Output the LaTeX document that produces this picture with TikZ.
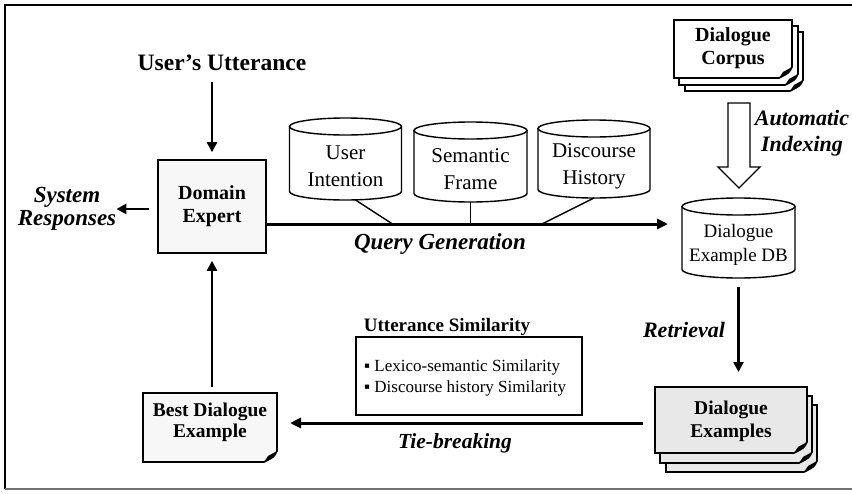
\documentclass[tikz,border=0pt]{standalone}
\usepackage{fontspec}
\setmainfont{Liberation Serif}
\usetikzlibrary{arrows.meta,calc}

\newcommand\cylshape[5]{% name, cx, top, w, h
  \node[cylbox, minimum width=#4, minimum height=#5] (#1) at (#2,{-#3-#5/2}) {};
  \draw[cylline] ([yshift=-8.5]#1.north west) -- ([yshift=8.5]#1.south west)
    arc[start angle=180,end angle=360,x radius=#4/2,y radius=8.5]
    -- ([yshift=-8.5]#1.north east) -- cycle;
  \draw[cylline] ([yshift=-8.5]#1.north) ellipse[x radius=#4/2,y radius=8.5];
}
\newcommand\docpage[5]{% x1,y1,x2,y2 (downwards), fill
  \draw[docline, fill=#5] (#1,-#2) -- (#3,-#2) -- (#3,{-#4+11})
    .. controls ({#3-3},{-#4+5}) .. ({#3-13},-#4) -- (#1,-#4) -- cycle;
  \fill ({#3},{-#4+11}) -- ({#3-9},{-#4+6}) -- ({#3-13},-#4)
    .. controls ({#3-6},{-#4+3}) .. cycle;
}

\begin{document}
\begin{tikzpicture}[x=1pt,y=1pt,
  arr/.style={line width=2.4pt,-{Triangle[length=10pt,width=10pt]}},
  qline/.style={line width=3pt,-{Triangle[length=11pt,width=10pt]}},
  branch/.style={line width=1.4pt},
  cylline/.style={line width=1.4pt, fill=white},
  cylbox/.style={inner sep=0pt, outer sep=0pt},
  cyltxt/.style={font=\fontsize{21}{27}\selectfont, align=center, inner sep=0pt},
  dbtxt/.style={font=\fontsize{19}{24}\selectfont, align=center, inner sep=0pt},
  headb/.style={font=\fontsize{23.5}{26}\selectfont\bfseries, inner sep=0pt, align=center},
  headi/.style={font=\fontsize{23}{23}\selectfont\bfseries\itshape, inner sep=0pt, align=center},
  labi/.style={font=\fontsize{22}{26}\selectfont\bfseries\itshape, inner sep=0pt, align=center},
  doctxt/.style={font=\fontsize{19.5}{23}\selectfont\bfseries, inner sep=0pt, align=center},
  docline/.style={line width=1.6pt},
  pagebox/.style={inner sep=0pt, outer sep=0pt},
  frameline/.style={line width=2pt}
]
\useasboundingbox (0,0) rectangle (852,-493);

% frame
\draw[frameline] (852,-5) -- (5,-5) -- (5,-489);
\draw[frameline, black!55] (5,-489) -- (852,-489);

% user's utterance and domain expert
\node[headb] (utt) at (222,-63) {User’s Utterance};
\node[draw, line width=1.6pt, fill=gray!6, minimum width=108, minimum height=93, inner sep=0pt,
      font=\fontsize{20}{23}\selectfont\bfseries, align=center] (de) at (212,-206.5) {Domain\\Expert};
\node[headi] (sr) at (67,-208.5) {System\\Responses};

\draw[arr] ($(de.north)+(0,77)$) -- ($(de.north)+(0,7)$);
\draw[arr] ($(de.west)+(-8,-2.5)$) -- (sr.east |- 0,-209);

% cylinders
\cylshape{ui}{345.5}{118}{112}{82}
\cylshape{sf}{470.5}{122}{113}{80}
\cylshape{dh}{594}{120}{112}{78}
\cylshape{db}{738.5}{198}{113}{80}
\node[cyltxt] (uit) at ([yshift=-7.5]ui.center) {User\\Intention};
\node[cyltxt] (sft) at ([yshift=-7.5]sf.center) {Semantic\\Frame};
\node[cyltxt] (dht) at ([yshift=-7.5]dh.center) {Discourse\\History};
\node[dbtxt] (dbt) at ([yshift=-7]db.center) {Dialogue\\Example DB};

% query generation
\coordinate (qy) at (0,-224);
\coordinate (qend) at ([xshift=-14]db.west |- qy);
\draw[qline] (de.east |- qy) -- (qend);
\draw[branch] ([xshift=10]ui.south) -- ([xshift=47]ui.south |- qy);
\draw[branch] (sf.south) -- (sf.south |- qy);
\draw[branch] (dh.south) -- ([xshift=-52]dh.south |- qy);
\node[headi] (qg) at (440,-244) {Query Generation};

% dialogue corpus
\docpage{685}{32}{803}{91}{white}
\docpage{679}{26}{798}{85}{white}
\docpage{674}{20}{792}{78}{white}
\node[doctxt, font=\fontsize{20}{23}\selectfont\bfseries] (corp) at (733,-48.5) {Dialogue\\Corpus};

% hollow arrow
\draw[line width=1.3pt, fill=white] (728,-103) -- (750,-103) -- (750,-167) -- (760,-167)
  -- (739,-188) -- (718,-167) -- (728,-167) -- cycle;
\node[labi] (ai) at (802,-133) {Automatic\\Indexing};

% dialogue examples
\docpage{666}{405}{817}{472}{gray!18}
\docpage{660}{396}{812}{463}{gray!18}
\docpage{655}{387}{807}{453}{gray!18}
\node[pagebox, minimum width=152, minimum height=66] (dexp) at (731,-420) {};
\node[doctxt, font=\fontsize{19.5}{23}\selectfont\bfseries] (dext) at (731,-421.5) {Dialogue\\Examples};

\draw[arr] ($(db.south)+(0,-9)$) -- ($(db.south |- dexp.north)+(0,15)$);
\node[labi] (ret) at (684,-330) {Retrieval};

% best dialogue example
\docpage{143}{393}{277}{462}{gray!6}
\node[pagebox, minimum width=134, minimum height=69] (bestp) at (210,-427.5) {};
\node[doctxt, font=\fontsize{19.5}{21}\selectfont\bfseries] (bestt) at (210,-422.5) {Best Dialogue\\Example};

\coordinate (ty) at (0,-423);
\draw[qline] ([xshift=-12]dexp.west |- ty) -- ([xshift=13]bestp.east |- ty);
\node[labi, font=\fontsize{21.5}{26}\selectfont\bfseries\itshape] (tb) at (455,-443) {Tie-breaking};

\draw[arr] ($(de.south |- bestp.north)+(0,6)$) -- ($(de.south)+(0,-7)$);

% utterance similarity
\node[font=\fontsize{19}{22}\selectfont\bfseries, inner sep=0pt] (ust) at (447,-327) {Utterance Similarity};
\node[draw, line width=1.2pt, minimum width=226, minimum height=78, inner sep=0pt] (usb) at (469,-376) {};
\node[anchor=west, font=\fontsize{17}{21}\selectfont, align=left, inner sep=0pt] (usl) at (364,-377.5)
  {▪ Lexico-semantic Similarity\\▪ Discourse history Similarity};
\end{tikzpicture}
\end{document}
